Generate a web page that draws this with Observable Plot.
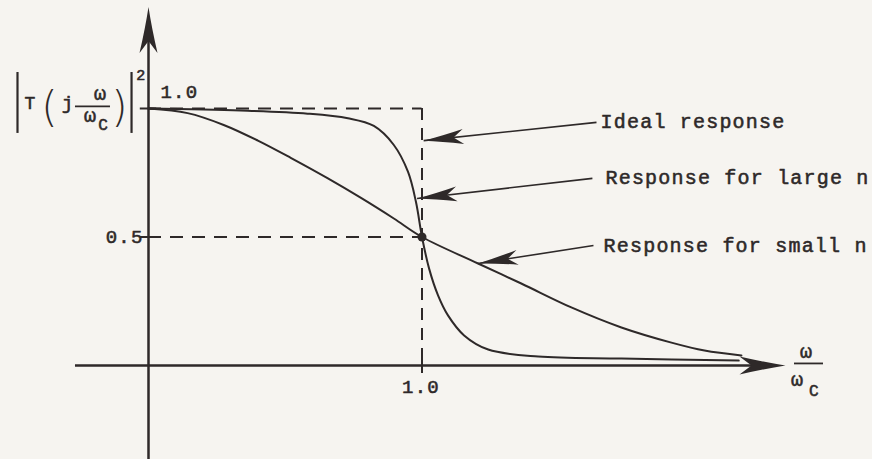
<!DOCTYPE html>
<html>
<head>
<meta charset="utf-8">
<script src="https://cdn.jsdelivr.net/npm/d3@7"></script>
<script src="https://cdn.jsdelivr.net/npm/@observablehq/plot@0.6"></script>
<style>
  html, body { margin: 0; padding: 0; background: #f6f4f0; }
  #chart svg { display: block; }
  #chart svg text { letter-spacing: 1.2px; }
</style>
</head>
<body>
<div id="chart"></div>
<script>
// Normalised frequency ω/ωc and squared magnitude |T(jω/ωc)|² of each response
const largeNFreq = [0, 0.337, 0.582, 0.729, 0.824, 0.897, 0.949, 0.978, 1.0, 1.026, 1.059, 1.095, 1.154, 1.242, 1.425, 1.729, 2.158];
const largeNGain = [1.0, 0.992, 0.98, 0.962, 0.932, 0.858, 0.753, 0.636, 0.5, 0.377, 0.272, 0.195, 0.117, 0.062, 0.035, 0.027, 0.019];
const smallNFreq = [0, 0.143, 0.275, 0.40, 0.52, 0.656, 0.777, 0.897, 1.0, 1.205, 1.363, 1.546, 1.729, 1.912, 2.033, 2.168];
const smallNGain = [1.0, 0.982, 0.936, 0.875, 0.808, 0.728, 0.652, 0.572, 0.5, 0.397, 0.319, 0.226, 0.148, 0.089, 0.058, 0.039];

// Ideal brick-wall response and the half-power point
const cutoffFreq = 1.0;
const passbandGain = 1.0;
const halfPowerGain = 0.5;

// Tick values and their labels
const yTickValues = [0.5, 1.0];
const yTickLabels = ["0.5", "1.0"];
const xTickValues = [1.0];
const xTickLabels = ["1.0"];

// Callout texts
const calloutLabels = ["Ideal response", "Response for large n", "Response for small n"];

// ---- layout ----
const W = 872, H = 459;
const ink = "#2e2929";
const mono = "'Liberation Mono', 'Courier New', monospace";
const xDomain = [-148 / 273.5, (W - 148) / 273.5];
const yDomain = [-(H - 365) / 257, 365 / 257];
const xs = Plot.scale({x: {domain: xDomain, range: [0, W]}});
const ys = Plot.scale({y: {domain: yDomain, range: [H, 0]}});

const largeN = largeNFreq.map((f, i) => ({f, g: largeNGain[i]}));
const smallN = smallNFreq.map((f, i) => ({f, g: smallNGain[i]}));

// Callout text anchors and arrow tail/tip, in chart units
const calloutPlace = [
  {tx: 1.653, ty: 0.926, x1: 1.638, y1: 0.946, x2: 1.006, y2: 0.875},
  {tx: 1.671, ty: 0.708, x1: 1.623, y1: 0.728, x2: 0.982, y2: 0.650},
  {tx: 1.664, ty: 0.440, x1: 1.627, y1: 0.467, x2: 1.205, y2: 0.397}
];
const callouts = calloutLabels.map((label, i) => {
  const p = calloutPlace[i];
  const angle = Math.atan2(ys.apply(p.y2) - ys.apply(p.y1), xs.apply(p.x2) - xs.apply(p.x1)) * 180 / Math.PI;
  return {label, ...p, angle};
});

// Axis extents
const xAxisStart = -0.267, xAxisTip = 2.329;
const yAxisBottom = yDomain[0], yAxisTip = 1.395;
const axisTips = [
  {x: xAxisTip, y: 0, angle: 0},
  {x: 0, y: yAxisTip, angle: -90}
];

// Notched, filled arrowhead drawn with its tip at the origin, pointing right
function arrowHead(len, half, notch) {
  return {
    draw(ctx) {
      ctx.moveTo(0, 0);
      ctx.quadraticCurveTo(-len * 0.45, -half * 0.35, -len, -half);
      ctx.lineTo(-len + notch, 0);
      ctx.lineTo(-len, half);
      ctx.quadraticCurveTo(-len * 0.45, half * 0.35, 0, 0);
      ctx.closePath();
    }
  };
}
const axisHead = arrowHead(46, 9, 12);
const calloutHead = arrowHead(40, 7.5, 10);

// |T(j ω/ωc)|² label pieces
const yLabelText = [
  {x: -0.431, y: 1.000, t: "T", size: 18},
  {x: -0.294, y: 1.000, t: "j", size: 19},
  {x: -0.175, y: 1.033, t: "ω", size: 20},
  {x: -0.212, y: 0.948, t: "ω", size: 20},
  {x: -0.164, y: 0.918, t: "C", size: 16},
  {x: -0.026, y: 1.109, t: "2", size: 15}
];
const yLabelParens = [
  {x: -0.360, y: 1.000, t: "("},
  {x: -0.104, y: 1.000, t: ")"}
];
const yLabelBars = [{x: -0.479}, {x: -0.062}];
const xLabelText = [
  {x: 2.406, y: 0.031, t: "ω", size: 20},
  {x: 2.373, y: -0.078, t: "ω", size: 20},
  {x: 2.435, y: -0.117, t: "C", size: 16}
];

const textStyle = {fontFamily: mono, fontWeight: "normal", fill: ink, stroke: ink, strokeWidth: 0.55};

const chart = Plot.plot({
  width: W,
  height: H,
  margin: 0,
  style: {background: "#f6f4f0", color: ink},
  x: {domain: xDomain, axis: null},
  y: {domain: yDomain, axis: null},
  marks: [
    // dashed ideal response and half-power guide
    Plot.ruleY([passbandGain], {x1: 0, x2: cutoffFreq, stroke: ink, strokeWidth: 2, strokeDasharray: "13,9"}),
    Plot.ruleX([cutoffFreq], {y1: passbandGain, y2: 0, stroke: ink, strokeWidth: 2, strokeDasharray: "12,8"}),
    Plot.ruleY([halfPowerGain], {x1: 0, x2: cutoffFreq, stroke: ink, strokeWidth: 2, strokeDasharray: "13,9"}),

    // axes
    Plot.ruleY([0], {x1: xAxisStart, x2: xAxisTip - 0.1, stroke: ink, strokeWidth: 2.5}),
    Plot.ruleX([0], {y1: yAxisBottom, y2: yAxisTip - 0.1, stroke: ink, strokeWidth: 2.5}),
    Plot.dot(axisTips, {x: "x", y: "y", rotate: "angle", symbol: axisHead, fill: ink, stroke: "none"}),

    // ticks
    Plot.ruleY(yTickValues, {x1: -0.03, x2: 0.03, stroke: ink, strokeWidth: 2}),
    Plot.ruleX(xTickValues, {y1: -0.031, y2: 0.031, stroke: ink, strokeWidth: 2}),
    Plot.text([yTickValues[0]], {x: 0, y: d => d, text: [yTickLabels[0]], textAnchor: "end", lineAnchor: "bottom", dx: -5, dy: 6, fontSize: 19, ...textStyle}),
    Plot.text([yTickValues[1]], {x: 0, y: d => d, text: [yTickLabels[1]], textAnchor: "start", lineAnchor: "bottom", dx: 12, dy: -11, fontSize: 19, ...textStyle}),
    Plot.text(xTickValues, {x: d => d, y: 0, text: xTickLabels, textAnchor: "middle", lineAnchor: "bottom", dx: -1, dy: 27, fontSize: 19, ...textStyle}),

    // response curves
    Plot.line(largeN, {x: "f", y: "g", curve: "catmull-rom", stroke: ink, strokeWidth: 2}),
    Plot.line(smallN, {x: "f", y: "g", curve: "catmull-rom", stroke: ink, strokeWidth: 2}),
    Plot.dot([{f: cutoffFreq, g: halfPowerGain}], {x: "f", y: "g", r: 4.5, fill: ink, stroke: "none"}),

    // callouts
    Plot.link(callouts, {x1: "x1", y1: "y1", x2: "x2", y2: "y2", stroke: ink, strokeWidth: 1.6}),
    Plot.dot(callouts, {x: "x2", y: "y2", rotate: "angle", symbol: calloutHead, fill: ink, stroke: "none"}),
    Plot.text(callouts, {x: "tx", y: "ty", text: "label", textAnchor: "start", lineAnchor: "bottom", fontSize: 20, ...textStyle}),

    // y-axis label |T(j ω/ωc)|²
    Plot.ruleX(yLabelBars, {x: "x", y1: 0.903, y2: 1.140, stroke: ink, strokeWidth: 2.2}),
    Plot.ruleY([1.008], {x1: -0.267, x2: -0.139, stroke: ink, strokeWidth: 1.8}),
    Plot.text(yLabelParens, {x: "x", y: "y", text: "t", textAnchor: "middle", lineAnchor: "middle", fontSize: 42, fontFamily: "'DejaVu Sans'", fontWeight: 300, fill: ink}),
    Plot.text(yLabelText, {x: "x", y: "y", text: "t", fontSize: "size", textAnchor: "middle", lineAnchor: "bottom", ...textStyle}),

    // x-axis label ω/ωc
    Plot.ruleY([0.008], {x1: 2.362, x2: 2.468, stroke: ink, strokeWidth: 1.8}),
    Plot.text(xLabelText, {x: "x", y: "y", text: "t", fontSize: "size", textAnchor: "middle", lineAnchor: "bottom", ...textStyle})
  ]
});

document.getElementById("chart").appendChild(chart);
</script>
</body>
</html>
